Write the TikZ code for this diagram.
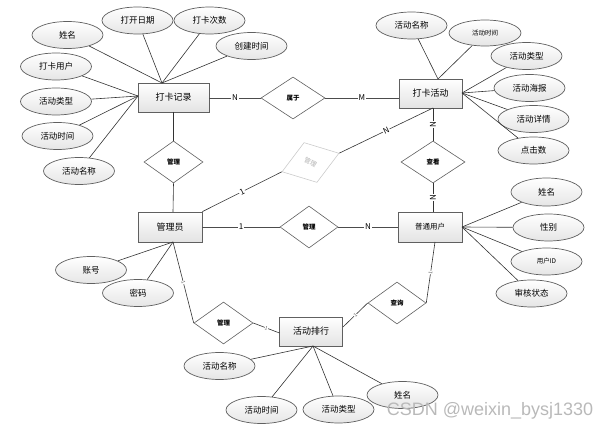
\documentclass[tikz,border=0pt]{standalone}
\usepackage{fontspec}
\setmainfont{Noto Sans CJK SC}
\newfontfamily\wmfont{Liberation Sans}
\usetikzlibrary{shapes.geometric,calc}
\tikzset{
  entity/.style={rectangle, draw=gray!75!black, line width=0.8pt, top color=white, bottom color=gray!22,
    minimum width=64pt, minimum height=29pt, inner sep=0pt, font=\fontsize{9}{10}\selectfont},
  attr/.style={ellipse, draw=gray!75!black, line width=0.7pt, top color=white, bottom color=gray!20,
    minimum width=71pt, minimum height=27pt, inner sep=0pt, font=\fontsize{8.5}{10}\selectfont},
  rel/.style={diamond, draw=gray!75!black, line width=0.6pt, fill=white, minimum width=60pt,
    minimum height=42pt, inner sep=0pt, font=\bfseries\fontsize{6.5}{7}\selectfont},
  conn/.style={draw=gray!40!black, line width=0.6pt},
  rconn/.style={draw=gray!60!black, line width=0.8pt},
  card/.style={fill=white, inner sep=0.8pt, font=\fontsize{8}{8}\selectfont, text=black},
  tiny1/.style={fill=white, inner sep=0.3pt, font=\fontsize{5}{5}\selectfont, text=gray!70!black, sloped},
}
\begin{document}
\begin{tikzpicture}[x=1pt,y=-1pt]
\useasboundingbox (0,0) rectangle (614,433);

% entities
\node[entity, minimum width=71pt] (dkjl) at (173.5,97.5) {打卡记录};
\node[entity, minimum width=63pt] (dkhd) at (430.5,93.5) {打卡活动};
\node[entity, minimum height=30pt] (gly) at (170,227) {管理员};
\node[entity, minimum height=30pt, font=\fontsize{7.5}{8}\selectfont] (ptyh) at (430,227) {普通用户};
\node[entity, minimum width=63pt] (hdph) at (311,331.5) {活动排行};

% relationships
\node[rel, minimum width=64pt] (sy) at (293,98) {属于};
\node[rel, minimum width=59pt] (gl1) at (173.5,162) {管理};
\node[rel, draw=gray!40, rotate=18, text=gray!60, font=\fontsize{6.5}{7}\selectfont] (gl2) at (310.5,162.5) {\rotatebox{-46}{管理}};
\node[rel, minimum width=58pt] (gl3) at (309,227) {管理};
\node[rel, minimum width=59pt] (gl4) at (223.5,323) {管理};
\node[rel, minimum width=64pt] (ck) at (433,162) {查看};
\node[rel, minimum width=58pt] (cx) at (397,303) {查询};

% attributes of 打卡记录
\node[attr] (a1) at (67.5,35) {姓名};
\node[attr] (a2) at (137.5,20.5) {打开日期};
\node[attr] (a3) at (209.5,20.5) {打卡次数};
\node[attr] (a4) at (251.5,46) {创建时间};
\node[attr] (a5) at (56,66.5) {打卡用户};
\node[attr] (a6) at (56,101.5) {活动类型};
\node[attr] (a7) at (57.5,136) {活动时间};
\node[attr] (a8) at (79,171) {活动名称};

% attributes of 打卡活动
\node[attr] (b1) at (411.5,25.5) {活动名称};
\node[attr, minimum width=72pt, minimum height=26pt, font=\fontsize{6.5}{7}\selectfont] (b2) at (485,33) {活动时间};
\node[attr] (b3) at (526.5,56) {活动类型};
\node[attr] (b4) at (529.5,88) {活动海报};
\node[attr] (b5) at (533.5,119) {活动详情};
\node[attr] (b6) at (533.5,150.5) {点击数};

% attributes of 普通用户
\node[attr, minimum height=28pt] (c1) at (546.5,192) {姓名};
\node[attr] (c2) at (548.5,227.5) {性别};
\node[attr, font=\fontsize{6.5}{7}\selectfont] (c3) at (546.5,261.5) {用户ID};
\node[attr] (c4) at (531.5,293.5) {审核状态};

% attributes of 管理员
\node[attr] (d1) at (91,270) {账号};
\node[attr] (d2) at (138,293) {密码};

% attributes of 活动排行
\node[attr] (e1) at (219.5,366) {活动名称};
\node[attr] (e2) at (261.5,410) {活动时间};
\node[attr] (e3) at (338.5,409.5) {活动类型};
\node[attr] (e4) at (402.5,395) {姓名};

% connection points
\coordinate (pA) at (162,83);
\coordinate (pB) at (138,96);
\coordinate (pC) at (438,79);
\coordinate (pD) at (462,93);
\coordinate (pE) at (462,227);
\coordinate (pF) at (173,242);
\coordinate (pG) at (313,346);
\coordinate (pH) at (433,108);
\coordinate (pH2) at (433,212);
\coordinate (pI) at (435,242);
\coordinate (pJ) at (343,327);
\coordinate (pK) at (279.5,333);
\coordinate (pL) at (173,212);
\coordinate (pM) at (173.5,112);

% attribute lines
\foreach \n in {a1,a2,a3,a4} \draw[conn] (\n) -- (pA);
\foreach \n in {a5,a6,a7,a8} \draw[conn] (\n) -- (pB);
\foreach \n in {b1,b2} \draw[conn] (\n) -- (pC);
\foreach \n in {b3,b4,b5,b6} \draw[conn] (\n) -- (pD);
\foreach \n in {c1,c2,c3,c4} \draw[conn] (\n) -- (pE);
\foreach \n in {d1,d2} \draw[conn] (\n) -- (pF);
\foreach \n in {e1,e2,e3,e4} \draw[conn] (\n) -- (pG);

% relationship lines
\draw[rconn] (dkjl.east |- sy.west) -- node[card]{N} (sy.west);
\draw[rconn] (sy.east) -- node[card]{M} (sy.east -| dkhd.west);
\draw[conn] (pM) -- (gl1.north);
\draw[conn] (gl1.south) -- (pL);
\draw[conn] (gly.north east) -- node[card, sloped]{1} (gl2.west);
\draw[conn] (gl2.east) -- node[card, sloped]{N} (pH);
\draw[conn] (pH) -- node[card, rotate=90]{N} (ck.north);
\draw[conn] (ck.south) -- node[card, rotate=90]{N} (pH2);
\draw[rconn] (gly.east) -- node[card]{1} (gl3.west);
\draw[rconn] (gl3.east) -- node[card]{N} (ptyh.west);
\draw[conn] (pF) -- node[tiny1]{1} (gl4.west);
\draw[conn] (gl4.east) -- node[tiny1]{1} (pK);
\draw[conn] (cx.east) -- node[tiny1]{1} (pI);
\draw[conn] (cx.west) -- node[tiny1]{1} (pJ);

% watermark
\node[font=\wmfont\fontsize{18}{18}\selectfont, text=gray!55] (wm) at (490,411) {CSDN @weixin\_bysj1330};
\end{tikzpicture}
\end{document}
